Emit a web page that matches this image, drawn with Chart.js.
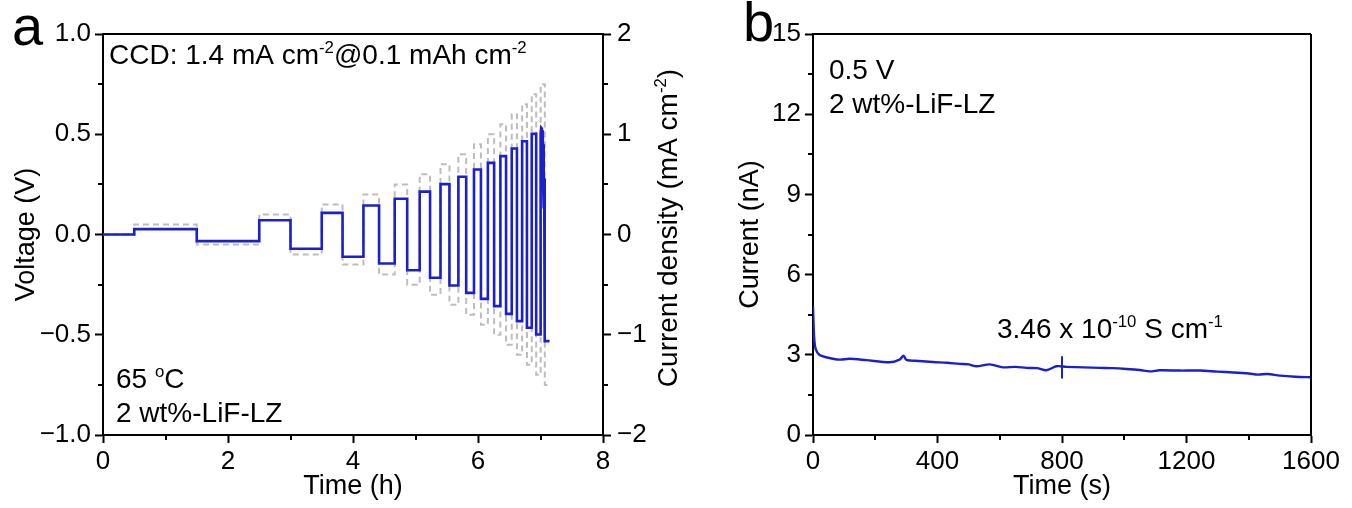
<!DOCTYPE html>
<html>
<head>
<meta charset="utf-8">
<script src="https://cdn.jsdelivr.net/npm/chart.js@4.4.1/dist/chart.umd.min.js"></script>
<style>
  html, body { margin: 0; padding: 0; background: #fff; }
  #wrap { position: relative; width: 1352px; height: 508px; overflow: hidden; }
  canvas { position: absolute; top: 0; }
  #chartA { left: 0; }
  #chartB { left: 700px; }
</style>
</head>
<body>
<div id="wrap">
  <canvas id="chartA" width="700" height="508"></canvas>
  <canvas id="chartB" width="652" height="508"></canvas>
</div>
<script>
// ---------- panel a : CCD staircase (time in h) ----------
const stepTimes = [0, 0.5, 1.5, 2.5, 3.0, 3.5, 3.833, 4.167, 4.417, 4.667, 4.867, 5.067, 5.233, 5.4,
  5.543, 5.686, 5.811, 5.936, 6.047, 6.158, 6.258, 6.358, 6.449, 6.54, 6.623, 6.706, 6.783, 6.86,
  6.931, 7.002, 7.069, 7.145];
const currentSteps = [0, 0.1, -0.1, 0.2, -0.2, 0.3, -0.3, 0.4, -0.4, 0.5, -0.5, 0.6, -0.6, 0.7, -0.7,
  0.8, -0.8, 0.9, -0.9, 1.0, -1.0, 1.1, -1.1, 1.2, -1.2, 1.3, -1.3, 1.4, -1.4, 1.5, -1.5];
const voltageSteps = [0, 0.027, -0.033, 0.071, -0.071, 0.108, -0.111, 0.145, -0.145, 0.178, -0.178,
  0.214, -0.216, 0.251, -0.254, 0.288, -0.291, 0.324, -0.321, 0.357, -0.357, 0.391, -0.396, 0.429,
  -0.432, 0.465, -0.465, 0.502, -0.499, 0.532, -0.532];
// the +1.5 pulse is noisy (soft short), read point by point
const lastPulseIndex = 29;
const lastPulseT = [7.002, 7.012, 7.022, 7.030, 7.036, 7.042, 7.048, 7.054, 7.059, 7.064, 7.069];
const lastPulseV = [0.505, 0.532, 0.528, 0.35, 0.52, 0.25, 0.45, 0.13, 0.28, 0.13, 0.2];

const hourTicks = [0, 2, 4, 6, 8];
const hourMinor = [1, 3, 5, 7];
const voltTicks = [-1, -0.5, 0, 0.5, 1];
const voltMinor = [-0.75, -0.25, 0.25, 0.75];
const cdTicks = [-2, -1, 0, 1, 2];
const cdMinor = [-1.5, -0.5, 0.5, 1.5];

// ---------- panel b : DC polarisation at 0.5 V (time in s) ----------
const timeS = [0, 4, 9, 21, 42, 85, 117, 171, 246, 278, 291, 300, 340, 385, 430, 471, 500, 525, 568,
  610, 650, 686, 720, 750, 782, 814, 870, 921, 960, 1007, 1050, 1082, 1114, 1180, 1243, 1300, 1350,
  1400, 1430, 1460, 1500, 1550, 1600];
const currentNA = [4.8, 3.6, 3.2, 2.99, 2.91, 2.82, 2.85, 2.80, 2.72, 2.82, 2.97, 2.81, 2.77, 2.73,
  2.70, 2.66, 2.64, 2.57, 2.64, 2.53, 2.55, 2.51, 2.50, 2.42, 2.57, 2.55, 2.53, 2.51, 2.50, 2.47,
  2.43, 2.38, 2.42, 2.41, 2.41, 2.37, 2.34, 2.30, 2.26, 2.28, 2.22, 2.18, 2.16];
const markT = [800, 800];
const markI = [2.11, 2.95];

const secTicks = [0, 400, 800, 1200, 1600];
const secMinor = [200, 600, 1000, 1400];
const nATicks = [0, 3, 6, 9, 12, 15];
const nAMinor = [1.5, 4.5, 7.5, 10.5, 13.5];

const BLUE = '#1a20cc';
const GRAY = '#bdbdbd';
const FAM = '"Liberation Sans", Arial, sans-serif';
const TICK = 26, TITLE = 27, NOTE = 28;
Chart.defaults.font.family = FAM;
Chart.defaults.color = '#000';

const minus = s => String(s).replace('-', '\u2212');

// short minor ticks, outside the frame
const minorTicks = {
  id: 'minorTicks',
  afterDraw(chart, args, opts) {
    const ctx = chart.ctx;
    ctx.save();
    ctx.strokeStyle = '#000';
    ctx.lineWidth = 2;
    for (const id in opts.ticks) {
      const s = chart.scales[id];
      opts.ticks[id].forEach(v => {
        const p = Math.round(s.getPixelForValue(v));
        ctx.beginPath();
        if (s.isHorizontal()) { ctx.moveTo(p, s.top); ctx.lineTo(p, s.top + 5); }
        else if (s.position === 'left') { ctx.moveTo(s.right, p); ctx.lineTo(s.right - 5, p); }
        else { ctx.moveTo(s.left, p); ctx.lineTo(s.left + 5, p); }
        ctx.stroke();
      });
    }
    ctx.restore();
  }
};

// top (and right) frame lines
const frame = {
  id: 'frame',
  afterDraw(chart, args, opts) {
    const {ctx, chartArea: a} = chart;
    ctx.save();
    ctx.strokeStyle = '#000';
    ctx.lineWidth = 2;
    ctx.beginPath();
    ctx.moveTo(a.left, a.top); ctx.lineTo(a.right, a.top);
    if (opts.right) { ctx.moveTo(a.right, a.top); ctx.lineTo(a.right, a.bottom); }
    ctx.stroke();
    ctx.restore();
  }
};

function richText(ctx, parts, size, align) {
  let w = 0;
  parts.forEach(([t, sup]) => {
    ctx.font = (sup ? size * 0.6 : size) + 'px ' + FAM;
    w += ctx.measureText(t).width;
  });
  let x = align === 'center' ? -w / 2 : 0;
  parts.forEach(([t, sup]) => {
    ctx.font = (sup ? size * 0.6 : size) + 'px ' + FAM;
    ctx.fillText(t, x, sup ? -size * 0.38 : 0);
    x += ctx.measureText(t).width;
  });
}

const labels = {
  id: 'labels',
  afterDraw(chart, args, opts) {
    const ctx = chart.ctx;
    opts.items.forEach(it => {
      ctx.save();
      ctx.fillStyle = '#000';
      ctx.textBaseline = 'alphabetic';
      ctx.textAlign = 'left';
      ctx.translate(it.x, it.y);
      if (it.rotate) ctx.rotate(it.rotate);
      richText(ctx, it.parts, it.size || NOTE, it.align);
      ctx.restore();
    });
  }
};

function axis(opts) {
  return Object.assign({
    type: 'linear',
    grid: { drawOnChartArea: false, drawTicks: true, tickLength: 8, tickWidth: 2, tickColor: '#000' },
    border: { color: '#000', width: 2 },
  }, opts);
}

// ---- build panel a data ----
const voltPts = [];
for (let i = 0; i < voltageSteps.length; i++) {
  if (i === lastPulseIndex) {
    lastPulseT.forEach((t, k) => voltPts.push({x: t, y: lastPulseV[k]}));
    continue;
  }
  voltPts.push({x: stepTimes[i], y: voltageSteps[i]}, {x: stepTimes[i + 1], y: voltageSteps[i]});
}
const cdPts = currentSteps.map((c, i) => ({x: stepTimes[i], y: c}));
cdPts.push({x: stepTimes[stepTimes.length - 1], y: currentSteps[currentSteps.length - 1]});

new Chart(document.getElementById('chartA'), {
  type: 'line',
  data: {
    datasets: [
      { data: voltPts, yAxisID: 'y', borderColor: BLUE, borderWidth: 2.6, pointRadius: 0, tension: 0 },
      { data: cdPts, yAxisID: 'y2', stepped: true, borderColor: GRAY, borderWidth: 2, borderDash: [6, 4],
        pointRadius: 0 }
    ]
  },
  plugins: [minorTicks, frame, labels],
  options: {
    responsive: false,
    animation: false,
    devicePixelRatio: 1,
    layout: { padding: { top: 34, left: 0, right: 0, bottom: 0 } },
    plugins: {
      legend: { display: false },
      tooltip: { enabled: false },
      minorTicks: { ticks: { x: hourMinor, y: voltMinor, y2: cdMinor } },
      frame: { right: false },
      labels: {
        items: [
          { x: 12, y: 45, size: 56, parts: [['a']] },
          { x: 109, y: 64, parts: [['CCD: 1.4 mA cm'], ['-2', 1], ['@0.1 mAh cm'], ['-2', 1]] },
          { x: 116, y: 388, parts: [['65 '], ['o', 1], ['C']] },
          { x: 116, y: 422, parts: [['2 wt%-LiF-LZ']] },
          { x: 677, y: 228, rotate: -Math.PI / 2, align: 'center', size: 28,
            parts: [['Current density (mA cm'], ['-2', 1], [')']] }
        ]
      }
    },
    scales: {
      x: axis({
        min: 0, max: 8,
        afterBuildTicks: s => { s.ticks = hourTicks.map(v => ({value: v})); },
        afterFit: s => { s.height = 73; },
        ticks: { font: { size: TICK }, padding: 3, maxRotation: 0, autoSkip: false, callback: v => String(v) },
        title: { display: true, text: 'Time (h)', font: { size: TITLE }, padding: { top: 0, bottom: 5 } }
      }),
      y: axis({
        position: 'left', min: -1, max: 1,
        afterBuildTicks: s => { s.ticks = voltTicks.map(v => ({value: v})); },
        afterFit: s => { s.width = 103; },
        ticks: { font: { size: TICK }, padding: 4, callback: v => minus(v.toFixed(1)) },
        title: { display: true, text: 'Voltage (V)', font: { size: TITLE }, padding: { top: 10, bottom: 0 } }
      }),
      y2: axis({
        position: 'right', min: -2, max: 2,
        afterBuildTicks: s => { s.ticks = cdTicks.map(v => ({value: v})); },
        afterFit: s => { s.width = 97; },
        ticks: { font: { size: TICK }, padding: 6, callback: v => minus(v) }
      })
    }
  }
});

// ---- panel b ----
new Chart(document.getElementById('chartB'), {
  type: 'line',
  data: {
    datasets: [
      { data: timeS.map((t, i) => ({x: t, y: currentNA[i]})), borderColor: BLUE, borderWidth: 2.4,
        pointRadius: 0, tension: 0.3 },
      { data: markT.map((t, i) => ({x: t, y: markI[i]})), borderColor: BLUE, borderWidth: 2, pointRadius: 0 }
    ]
  },
  plugins: [minorTicks, frame, labels],
  options: {
    responsive: false,
    animation: false,
    devicePixelRatio: 1,
    layout: { padding: { top: 34, left: 0, right: 41, bottom: 0 } },
    plugins: {
      legend: { display: false },
      tooltip: { enabled: false },
      minorTicks: { ticks: { x: secMinor, y: nAMinor } },
      frame: { right: true },
      labels: {
        items: [
          { x: 43, y: 41, size: 56, parts: [['b']] },
          { x: 129, y: 79, parts: [['0.5 V']] },
          { x: 129, y: 113, parts: [['2 wt%-LiF-LZ']] },
          { x: 297, y: 338, parts: [['3.46 x 10'], ['-10', 1], [' S cm'], ['-1', 1]] }
        ]
      }
    },
    scales: {
      x: axis({
        min: 0, max: 1600,
        afterBuildTicks: s => { s.ticks = secTicks.map(v => ({value: v})); },
        afterFit: s => { s.height = 73; },
        ticks: { font: { size: TICK }, padding: 3, maxRotation: 0, autoSkip: false, callback: v => String(v) },
        title: { display: true, text: 'Time (s)', font: { size: TITLE }, padding: { top: 0, bottom: 5 } }
      }),
      y: axis({
        position: 'left', min: 0, max: 15,
        afterBuildTicks: s => { s.ticks = nATicks.map(v => ({value: v})); },
        afterFit: s => { s.width = 113; },
        ticks: { font: { size: TICK }, padding: 4, callback: v => String(v) },
        title: { display: true, text: 'Current (nA)', font: { size: TITLE }, padding: { top: 34, bottom: 0 } }
      })
    }
  }
});
</script>
</body>
</html>
